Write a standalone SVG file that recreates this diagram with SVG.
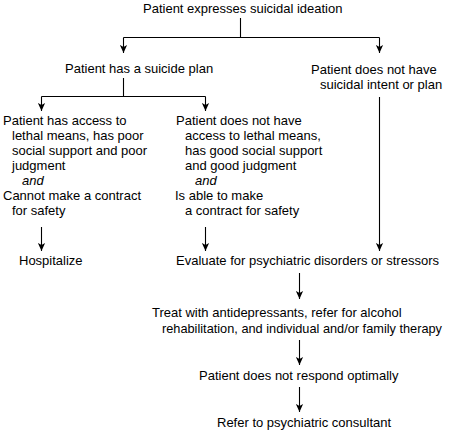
<svg xmlns="http://www.w3.org/2000/svg" width="451" height="431" viewBox="0 0 451 431">
<defs>
<style>
text{font-family:"Liberation Sans",Arial,sans-serif;font-size:13px;fill:#000}
.i{font-style:italic}
.c{stroke:#000;stroke-width:1.1;fill:none}
</style>
<marker id="ah" markerUnits="userSpaceOnUse" viewBox="0 -4 8 8" refX="8" refY="0" markerWidth="8" markerHeight="8" orient="auto">
<path d="M0,-3.6 L8,0 L0,3.6 L2,0 z" fill="#000"/>
</marker>
</defs>
<rect width="451" height="431" fill="#fff"/>
<g id="connectors">
<path class="c" d="M240.5,18 V37.5 M123.5,37.5 H379.5"/>
<path class="c" d="M123.5,37.5 V53" marker-end="url(#ah)"/>
<path class="c" d="M379.5,37.5 V53" marker-end="url(#ah)"/>
<path class="c" d="M123.5,78 V96.5 M41.5,96.5 H205.5"/>
<path class="c" d="M41.5,96.5 V111" marker-end="url(#ah)"/>
<path class="c" d="M205.5,96.5 V111" marker-end="url(#ah)"/>
<path class="c" d="M379.5,97 V251" marker-end="url(#ah)"/>
<path class="c" d="M41.5,227 V251" marker-end="url(#ah)"/>
<path class="c" d="M205.5,227 V251" marker-end="url(#ah)"/>
<path class="c" d="M299.5,273 V299" marker-end="url(#ah)"/>
<path class="c" d="M299.5,340 V365" marker-end="url(#ah)"/>
<path class="c" d="M299.5,387 V412" marker-end="url(#ah)"/>
</g>
<g id="n1"><text x="143" y="13">Patient expresses suicidal ideation</text></g>
<g id="n2"><text x="65" y="73">Patient has a suicide plan</text></g>
<g id="n3"><text x="311" y="74">Patient does not have</text><text x="320" y="89">suicidal intent or plan</text></g>
<g id="n4">
<text x="3" y="125">Patient has access to</text>
<text x="12" y="140">lethal means, has poor</text>
<text x="12" y="155">social support and poor</text>
<text x="12" y="170">judgment</text>
<text class="i" x="22" y="185">and</text>
<text x="3" y="200">Cannot make a contract</text>
<text x="12" y="215">for safety</text>
</g>
<g id="n5">
<text x="176" y="125">Patient does not have</text>
<text x="185" y="140">access to lethal means,</text>
<text x="185" y="155">has good social support</text>
<text x="185" y="170">and good judgment</text>
<text class="i" x="195" y="185">and</text>
<text x="175" y="200">Is able to make</text>
<text x="185" y="215">a contract for safety</text>
</g>
<g id="n6"><text x="19" y="265">Hospitalize</text></g>
<g id="n7"><text x="176" y="265">Evaluate for psychiatric disorders or stressors</text></g>
<g id="n8"><text x="152" y="317">Treat with antidepressants, refer for alcohol</text><text x="162" y="333" textLength="280" lengthAdjust="spacingAndGlyphs">rehabilitation, and individual and/or family therapy</text></g>
<g id="n9"><text x="199" y="380">Patient does not respond optimally</text></g>
<g id="n10"><text x="217" y="427">Refer to psychiatric consultant</text></g>
</svg>
